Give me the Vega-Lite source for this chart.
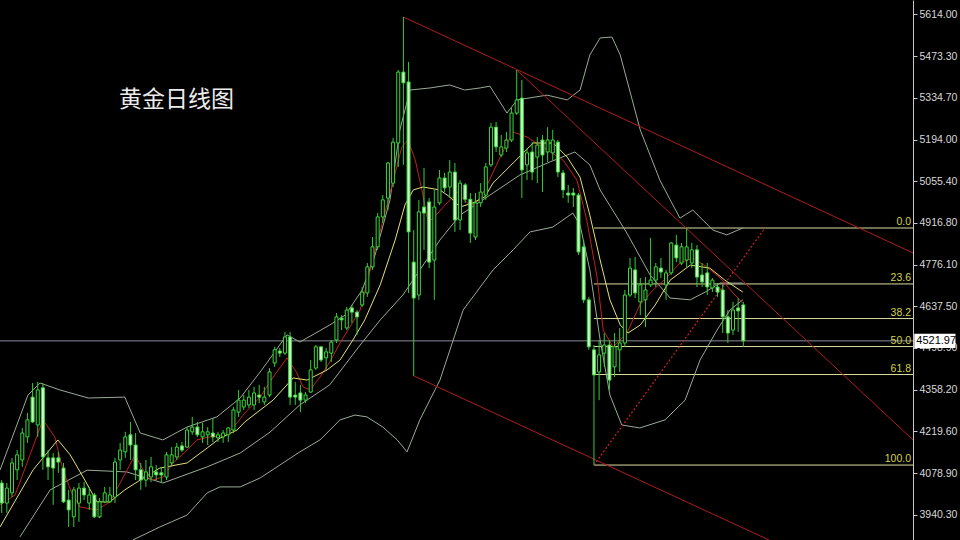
{
"$schema": "https://vega.github.io/schema/vega-lite/v6.json",
"width": 913, "height": 540,
"autosize": {"type": "none"},
"padding": {"left": 0, "top": 0, "right": 47, "bottom": 0},
"background": "#000000",
"config": {"view": {"stroke": null}, "scale": {"continuousPadding": 0},
 "axisY": {"orient":"right","format":".2f","labelColor":"#d8d8d8","labelFont":"Liberation Sans","labelFontSize":10.5,"tickColor":"#c8c8c8","tickSize":4,"domainColor":"#c8c8c8","grid":false,"labelPadding":2,"labelOverlap":false,"labelFlush":false}},
"datasets": {
"candles": [
{"i":0,"o":4047,"h":4057,"l":3947,"c":3980},{"i":1,"o":3980,"h":4047,"l":3947,"c":4030},{"i":2,"o":4014,"h":4131,"l":4000,"c":4114},{"i":3,"o":4091,"h":4157,"l":4057,"c":4141},{"i":4,"o":4124,"h":4231,"l":4101,"c":4214},
{"i":5,"o":4201,"h":4281,"l":4181,"c":4258},{"i":6,"o":4334,"h":4381,"l":4248,"c":4251},{"i":7,"o":4241,"h":4385,"l":4201,"c":4358},{"i":8,"o":4365,"h":4381,"l":4091,"c":4134},{"i":9,"o":4131,"h":4157,"l":4057,"c":4101},
{"i":10,"o":4131,"h":4147,"l":3974,"c":4097},{"i":11,"o":4131,"h":4151,"l":4081,"c":4117},{"i":12,"o":4097,"h":4114,"l":3980,"c":3984},{"i":13,"o":3990,"h":4024,"l":3900,"c":3957},{"i":14,"o":3934,"h":4034,"l":3900,"c":4024},
{"i":15,"o":3980,"h":4047,"l":3917,"c":4030},{"i":16,"o":4030,"h":4050,"l":3990,"c":4007},{"i":17,"o":3980,"h":4034,"l":3957,"c":4007},{"i":18,"o":4007,"h":4014,"l":3930,"c":3934},{"i":19,"o":3934,"h":3997,"l":3930,"c":3984},
{"i":20,"o":3984,"h":4034,"l":3980,"c":4014},{"i":21,"o":3984,"h":4034,"l":3980,"c":4007},{"i":22,"o":4000,"h":4131,"l":3980,"c":4117},{"i":23,"o":4124,"h":4181,"l":4091,"c":4157},{"i":24,"o":4151,"h":4218,"l":4131,"c":4201},
{"i":25,"o":4208,"h":4251,"l":4124,"c":4174},{"i":26,"o":4174,"h":4214,"l":4057,"c":4091},{"i":27,"o":4091,"h":4114,"l":4024,"c":4057},{"i":28,"o":4057,"h":4124,"l":4034,"c":4084},{"i":29,"o":4067,"h":4134,"l":4050,"c":4101},
{"i":30,"o":4084,"h":4107,"l":4057,"c":4074},{"i":31,"o":4081,"h":4101,"l":4047,"c":4074},{"i":32,"o":4067,"h":4151,"l":4057,"c":4141},{"i":33,"o":4114,"h":4167,"l":4101,"c":4141},{"i":34,"o":4134,"h":4181,"l":4124,"c":4167},
{"i":35,"o":4171,"h":4184,"l":4151,"c":4157},{"i":36,"o":4167,"h":4234,"l":4164,"c":4224},{"i":37,"o":4218,"h":4268,"l":4208,"c":4234},{"i":38,"o":4234,"h":4251,"l":4201,"c":4208},{"i":39,"o":4201,"h":4248,"l":4181,"c":4218},
{"i":40,"o":4208,"h":4234,"l":4174,"c":4218},{"i":41,"o":4214,"h":4264,"l":4184,"c":4201},{"i":42,"o":4198,"h":4218,"l":4184,"c":4208},{"i":43,"o":4201,"h":4224,"l":4181,"c":4214},{"i":44,"o":4208,"h":4234,"l":4184,"c":4231},
{"i":45,"o":4224,"h":4301,"l":4214,"c":4291},{"i":46,"o":4284,"h":4358,"l":4268,"c":4324},{"i":47,"o":4301,"h":4341,"l":4291,"c":4324},{"i":48,"o":4308,"h":4358,"l":4298,"c":4334},{"i":49,"o":4308,"h":4368,"l":4291,"c":4348},
{"i":50,"o":4341,"h":4375,"l":4314,"c":4334},{"i":51,"o":4318,"h":4368,"l":4308,"c":4334},{"i":52,"o":4341,"h":4431,"l":4334,"c":4418},{"i":53,"o":4448,"h":4502,"l":4435,"c":4492},{"i":54,"o":4488,"h":4498,"l":4468,"c":4481},
{"i":55,"o":4481,"h":4552,"l":4475,"c":4535},{"i":56,"o":4535,"h":4552,"l":4308,"c":4334},{"i":57,"o":4341,"h":4385,"l":4308,"c":4334},{"i":58,"o":4348,"h":4375,"l":4284,"c":4324},{"i":59,"o":4324,"h":4351,"l":4314,"c":4341},
{"i":60,"o":4351,"h":4458,"l":4348,"c":4425},{"i":61,"o":4431,"h":4508,"l":4425,"c":4502},{"i":62,"o":4502,"h":4505,"l":4451,"c":4458},{"i":63,"o":4465,"h":4498,"l":4425,"c":4485},{"i":64,"o":4481,"h":4525,"l":4451,"c":4518},
{"i":65,"o":4525,"h":4615,"l":4515,"c":4602},{"i":66,"o":4598,"h":4608,"l":4558,"c":4592},{"i":67,"o":4565,"h":4635,"l":4558,"c":4625},{"i":68,"o":4632,"h":4642,"l":4582,"c":4618},{"i":69,"o":4618,"h":4625,"l":4542,"c":4602},
{"i":70,"o":4642,"h":4702,"l":4635,"c":4685},{"i":71,"o":4682,"h":4782,"l":4669,"c":4769},{"i":72,"o":4769,"h":4869,"l":4759,"c":4836},{"i":73,"o":4836,"h":4949,"l":4826,"c":4936},{"i":74,"o":4936,"h":5009,"l":4916,"c":4993},
{"i":75,"o":4999,"h":5120,"l":4959,"c":5116},{"i":76,"o":5049,"h":5200,"l":5036,"c":5186},{"i":77,"o":5183,"h":5427,"l":5103,"c":5420},{"i":78,"o":5420,"h":5604,"l":5110,"c":5384},{"i":79,"o":5387,"h":5454,"l":4682,"c":4886},
{"i":80,"o":4785,"h":4892,"l":4405,"c":4665},{"i":81,"o":4675,"h":4993,"l":4659,"c":4953},{"i":82,"o":4969,"h":5100,"l":4826,"c":4949},{"i":83,"o":4986,"h":4999,"l":4765,"c":4785},{"i":84,"o":4792,"h":5026,"l":4659,"c":4969},
{"i":85,"o":4983,"h":5093,"l":4976,"c":5066},{"i":86,"o":5066,"h":5083,"l":5019,"c":5033},{"i":87,"o":5036,"h":5126,"l":4999,"c":5086},{"i":88,"o":5086,"h":5116,"l":4886,"c":4926},{"i":89,"o":4926,"h":5059,"l":4892,"c":5049},
{"i":90,"o":5043,"h":5049,"l":4983,"c":4995},{"i":91,"o":4995,"h":5016,"l":4849,"c":4882},{"i":92,"o":4869,"h":5016,"l":4859,"c":4983},{"i":93,"o":4983,"h":5049,"l":4969,"c":5019},{"i":94,"o":5009,"h":5116,"l":4993,"c":5103},
{"i":95,"o":5110,"h":5250,"l":5103,"c":5236},{"i":96,"o":5236,"h":5253,"l":5153,"c":5170},{"i":97,"o":5143,"h":5210,"l":5136,"c":5170},{"i":98,"o":5166,"h":5220,"l":5153,"c":5193},{"i":99,"o":5193,"h":5300,"l":5186,"c":5283},
{"i":100,"o":5283,"h":5427,"l":5277,"c":5327},{"i":101,"o":5333,"h":5394,"l":4999,"c":5093},{"i":102,"o":5110,"h":5166,"l":5059,"c":5150},{"i":103,"o":5153,"h":5186,"l":5059,"c":5086},{"i":104,"o":5136,"h":5203,"l":5049,"c":5176},
{"i":105,"o":5193,"h":5210,"l":5019,"c":5143},{"i":106,"o":5153,"h":5236,"l":5120,"c":5193},{"i":107,"o":5150,"h":5227,"l":5126,"c":5193},{"i":108,"o":5186,"h":5193,"l":5069,"c":5086},{"i":109,"o":5083,"h":5093,"l":4999,"c":5026},
{"i":110,"o":5016,"h":5043,"l":4983,"c":5009},{"i":111,"o":5016,"h":5033,"l":4969,"c":5009},{"i":112,"o":5009,"h":5016,"l":4809,"c":4819},{"i":113,"o":4836,"h":4859,"l":4648,"c":4659},{"i":114,"o":4659,"h":4669,"l":4492,"c":4502},
{"i":115,"o":4492,"h":4508,"l":4107,"c":4408},{"i":116,"o":4418,"h":4525,"l":4324,"c":4475},{"i":117,"o":4481,"h":4548,"l":4435,"c":4508},{"i":118,"o":4508,"h":4525,"l":4358,"c":4391},{"i":119,"o":4435,"h":4548,"l":4401,"c":4502},
{"i":120,"o":4492,"h":4565,"l":4418,"c":4515},{"i":121,"o":4515,"h":4692,"l":4502,"c":4675},{"i":122,"o":4675,"h":4799,"l":4669,"c":4765},{"i":123,"o":4759,"h":4802,"l":4665,"c":4682},{"i":124,"o":4652,"h":4732,"l":4608,"c":4709},
{"i":125,"o":4659,"h":4735,"l":4568,"c":4692},{"i":126,"o":4709,"h":4866,"l":4702,"c":4725},{"i":127,"o":4725,"h":4782,"l":4702,"c":4769},{"i":128,"o":4765,"h":4799,"l":4732,"c":4752},{"i":129,"o":4709,"h":4759,"l":4659,"c":4749},
{"i":130,"o":4749,"h":4852,"l":4742,"c":4849},{"i":131,"o":4842,"h":4876,"l":4785,"c":4799},{"i":132,"o":4782,"h":4849,"l":4775,"c":4836},{"i":133,"o":4792,"h":4899,"l":4769,"c":4836},{"i":134,"o":4782,"h":4849,"l":4765,"c":4826},
{"i":135,"o":4826,"h":4842,"l":4702,"c":4735},{"i":136,"o":4742,"h":4782,"l":4702,"c":4719},{"i":137,"o":4749,"h":4782,"l":4675,"c":4702},{"i":138,"o":4699,"h":4732,"l":4685,"c":4725},{"i":139,"o":4702,"h":4715,"l":4669,"c":4685},
{"i":140,"o":4692,"h":4709,"l":4548,"c":4602},{"i":141,"o":4602,"h":4625,"l":4515,"c":4548},{"i":142,"o":4558,"h":4652,"l":4542,"c":4625},{"i":143,"o":4632,"h":4665,"l":4552,"c":4622},{"i":144,"o":4642,"h":4652,"l":4502,"c":4521.97}
],
"lines": [
{"s":"U","i":-0.33,"p":4090},{"s":"U","i":2.58,"p":4224},{"s":"U","i":5.1,"p":4341},{"s":"U","i":7.44,"p":4381},{"s":"U","i":11.3,"p":4358},{"s":"U","i":16.8,"p":4331},{"s":"U","i":23.9,"p":4334},{"s":"U","i":26.9,"p":4214},{"s":"U","i":31.3,"p":4191},{"s":"U","i":36.0,"p":4234},{"s":"U","i":41.8,"p":4268},{"s":"U","i":46.3,"p":4331},{"s":"U","i":50.5,"p":4425},{"s":"U","i":55.4,"p":4542},{"s":"U","i":57.9,"p":4518},{"s":"U","i":63.7,"p":4575},{"s":"U","i":66.7,"p":4608},{"s":"U","i":70.0,"p":4692},{"s":"U","i":72.5,"p":4809},{"s":"U","i":75.4,"p":4993},{"s":"U","i":77.3,"p":5226},{"s":"U","i":79.3,"p":5360},{"s":"U","i":83.2,"p":5367},{"s":"U","i":87.0,"p":5377},{"s":"U","i":89.9,"p":5360},{"s":"U","i":92.9,"p":5367},{"s":"U","i":94.8,"p":5373},{"s":"U","i":98.1,"p":5283},{"s":"U","i":100.1,"p":5327},{"s":"U","i":105.9,"p":5343},{"s":"U","i":109.8,"p":5327},{"s":"U","i":112.3,"p":5360},{"s":"U","i":114.2,"p":5477},{"s":"U","i":116.2,"p":5534},{"s":"U","i":118.5,"p":5537},{"s":"U","i":120.1,"p":5477},{"s":"U","i":124.0,"p":5226},{"s":"U","i":127.8,"p":5059},{"s":"U","i":129.8,"p":4993},{"s":"U","i":131.7,"p":4932},{"s":"U","i":134.2,"p":4959},{"s":"U","i":138.1,"p":4892},{"s":"U","i":140.8,"p":4876},{"s":"U","i":143.9,"p":4899},
{"s":"M","i":3.55,"p":3867},{"s":"M","i":9.4,"p":4024},{"s":"M","i":16.6,"p":4090},{"s":"M","i":24.3,"p":4084},{"s":"M","i":31.3,"p":4047},{"s":"M","i":39.9,"p":4101},{"s":"M","i":46.3,"p":4147},{"s":"M","i":52.1,"p":4217},{"s":"M","i":57.9,"p":4308},{"s":"M","i":63.7,"p":4375},{"s":"M","i":69.6,"p":4508},{"s":"M","i":73.5,"p":4592},{"s":"M","i":77.9,"p":4675},{"s":"M","i":81.2,"p":4759},{"s":"M","i":85.1,"p":4859},{"s":"M","i":89.0,"p":4942},{"s":"M","i":94.8,"p":5009},{"s":"M","i":100.6,"p":5076},{"s":"M","i":106.5,"p":5120},{"s":"M","i":111.3,"p":5153},{"s":"M","i":114.2,"p":5110},{"s":"M","i":116.2,"p":5026},{"s":"M","i":121.4,"p":4882},{"s":"M","i":125.9,"p":4742},{"s":"M","i":129.8,"p":4665},{"s":"M","i":133.7,"p":4659},{"s":"M","i":136.6,"p":4685},{"s":"M","i":139.5,"p":4715},{"s":"M","i":143.9,"p":4715},
{"s":"L","i":25.5,"p":3857},{"s":"L","i":30.7,"p":3900},{"s":"L","i":36.0,"p":3940},{"s":"L","i":39.9,"p":4014},{"s":"L","i":42.4,"p":4034},{"s":"L","i":46.3,"p":4034},{"s":"L","i":50.2,"p":4064},{"s":"L","i":54.0,"p":4107},{"s":"L","i":57.9,"p":4151},{"s":"L","i":61.8,"p":4191},{"s":"L","i":65.7,"p":4258},{"s":"L","i":68.6,"p":4274},{"s":"L","i":70.9,"p":4268},{"s":"L","i":74.0,"p":4234},{"s":"L","i":76.8,"p":4191},{"s":"L","i":78.7,"p":4151},{"s":"L","i":81.2,"p":4258},{"s":"L","i":85.1,"p":4391},{"s":"L","i":89.6,"p":4625},{"s":"L","i":95.4,"p":4759},{"s":"L","i":99.3,"p":4826},{"s":"L","i":102.6,"p":4886},{"s":"L","i":107.0,"p":4902},{"s":"L","i":110.9,"p":4949},{"s":"L","i":112.3,"p":4909},{"s":"L","i":114.2,"p":4759},{"s":"L","i":116.2,"p":4525},{"s":"L","i":118.1,"p":4341},{"s":"L","i":120.4,"p":4241},{"s":"L","i":123.9,"p":4231},{"s":"L","i":128.8,"p":4258},{"s":"L","i":132.7,"p":4324},{"s":"L","i":135.6,"p":4458},{"s":"L","i":138.9,"p":4558},{"s":"L","i":141.4,"p":4625},{"s":"L","i":143.9,"p":4659},
{"s":"R","i":-0.33,"p":3974},{"s":"R","i":2.6,"p":4007},{"s":"R","i":5.5,"p":4141},{"s":"R","i":8.0,"p":4258},{"s":"R","i":10.3,"p":4201},{"s":"R","i":11.9,"p":4091},{"s":"R","i":13.6,"p":4014},{"s":"R","i":15.2,"p":3967},{"s":"R","i":18.5,"p":3957},{"s":"R","i":21.0,"p":3984},{"s":"R","i":23.0,"p":4047},{"s":"R","i":25.9,"p":4141},{"s":"R","i":28.2,"p":4067},{"s":"R","i":29.4,"p":4057},{"s":"R","i":31.3,"p":4067},{"s":"R","i":33.3,"p":4114},{"s":"R","i":36.0,"p":4157},{"s":"R","i":37.9,"p":4191},{"s":"R","i":40.4,"p":4201},{"s":"R","i":43.7,"p":4207},{"s":"R","i":45.7,"p":4248},{"s":"R","i":47.2,"p":4281},{"s":"R","i":50.2,"p":4334},{"s":"R","i":52.7,"p":4401},{"s":"R","i":55.4,"p":4465},{"s":"R","i":57.3,"p":4415},{"s":"R","i":58.5,"p":4368},{"s":"R","i":59.9,"p":4358},{"s":"R","i":61.8,"p":4401},{"s":"R","i":63.7,"p":4451},{"s":"R","i":65.7,"p":4515},{"s":"R","i":67.6,"p":4568},{"s":"R","i":69.6,"p":4625},{"s":"R","i":72.9,"p":4849},{"s":"R","i":75.4,"p":5016},{"s":"R","i":77.7,"p":5170},{"s":"R","i":78.9,"p":5193},{"s":"R","i":80.3,"p":5126},{"s":"R","i":81.6,"p":5026},{"s":"R","i":82.8,"p":4916},{"s":"R","i":84.7,"p":4949},{"s":"R","i":86.5,"p":4983},{"s":"R","i":88.4,"p":5019},{"s":"R","i":90.4,"p":4983},{"s":"R","i":91.9,"p":4976},{"s":"R","i":93.8,"p":5026},{"s":"R","i":96.8,"p":5136},{"s":"R","i":99.3,"p":5220},{"s":"R","i":102.0,"p":5203},{"s":"R","i":105.9,"p":5160},{"s":"R","i":109.0,"p":5126},{"s":"R","i":111.7,"p":5059},{"s":"R","i":113.6,"p":4926},{"s":"R","i":115.6,"p":4735},{"s":"R","i":116.8,"p":4558},{"s":"R","i":118.7,"p":4502},{"s":"R","i":121.4,"p":4548},{"s":"R","i":123.9,"p":4642},{"s":"R","i":126.5,"p":4692},{"s":"R","i":129.2,"p":4735},{"s":"R","i":131.7,"p":4782},{"s":"R","i":134.2,"p":4799},{"s":"R","i":136.9,"p":4769},{"s":"R","i":139.5,"p":4732},{"s":"R","i":142.0,"p":4682},{"s":"R","i":143.9,"p":4648},
{"s":"Y","i":-0.33,"p":3900},{"s":"Y","i":6.1,"p":4091},{"s":"Y","i":10.9,"p":4191},{"s":"Y","i":13.3,"p":4141},{"s":"Y","i":15.8,"p":4067},{"s":"Y","i":18.5,"p":3984},{"s":"Y","i":21.0,"p":3984},{"s":"Y","i":23.9,"p":4024},{"s":"Y","i":26.9,"p":4057},{"s":"Y","i":30.7,"p":4097},{"s":"Y","i":36.0,"p":4114},{"s":"Y","i":39.9,"p":4164},{"s":"Y","i":42.4,"p":4197},{"s":"Y","i":45.7,"p":4224},{"s":"Y","i":47.2,"p":4251},{"s":"Y","i":52.7,"p":4324},{"s":"Y","i":56.6,"p":4398},{"s":"Y","i":59.3,"p":4391},{"s":"Y","i":63.2,"p":4425},{"s":"Y","i":65.7,"p":4458},{"s":"Y","i":68.2,"p":4525},{"s":"Y","i":70.5,"p":4592},{"s":"Y","i":73.5,"p":4709},{"s":"Y","i":76.4,"p":4859},{"s":"Y","i":78.3,"p":4976},{"s":"Y","i":79.9,"p":5026},{"s":"Y","i":81.8,"p":5036},{"s":"Y","i":85.1,"p":5026},{"s":"Y","i":87.0,"p":5003},{"s":"Y","i":89.0,"p":4969},{"s":"Y","i":91.5,"p":4983},{"s":"Y","i":93.8,"p":5003},{"s":"Y","i":95.4,"p":5049},{"s":"Y","i":99.3,"p":5116},{"s":"Y","i":103.2,"p":5183},{"s":"Y","i":107.1,"p":5183},{"s":"Y","i":109.8,"p":5136},{"s":"Y","i":112.3,"p":5069},{"s":"Y","i":114.2,"p":4942},{"s":"Y","i":116.2,"p":4792},{"s":"Y","i":118.1,"p":4659},{"s":"Y","i":120.1,"p":4575},{"s":"Y","i":121.6,"p":4548},{"s":"Y","i":124.0,"p":4575},{"s":"Y","i":126.9,"p":4642},{"s":"Y","i":129.8,"p":4725},{"s":"Y","i":133.7,"p":4775},{"s":"Y","i":137.5,"p":4765},{"s":"Y","i":140.4,"p":4725},{"s":"Y","i":143.9,"p":4685}
],
"fib": [{"lv":"0.0","p":4899},{"lv":"23.6","p":4712.1},{"lv":"38.2","p":4596.5},{"lv":"50.0","p":4503},{"lv":"61.8","p":4409.5},{"lv":"100.0","p":4107}],
"trend": [{"a":78,"pa":5604,"b":176.95,"pb":4815.5},{"a":100,"pa":5427,"b":176.95,"pb":4191},{"a":80,"pa":4405,"b":149,"pb":3856.6}],
"dotted": [{"a":115,"pa":4107,"b":148.2,"pb":4899}],
"price": [{"price":4521.97}],
"title": [{"t":"黄金日线图"}]
},
"layer": [
{"data":{"name":"price"},"mark":{"type":"rule","color":"#8a8a9a","strokeWidth":1},
 "encoding":{"y":{"field":"price","type":"quantitative","scale":{"domain":[3856.6,5660.8],"nice":false,"zero":false},
  "axis":{"values":[3940.3,4078.9,4219.6,4358.2,4498.9,4637.5,4776.1,4916.8,5055.4,5194.0,5334.7,5473.3,5614.0],"title":null}}}},
{"data":{"name":"fib"},"mark":{"type":"rule","color":"#dcdca0","strokeWidth":1},
 "encoding":{"x":{"datum":115,"type":"quantitative","scale":{"domain":[-0.33,176.95],"nice":false,"zero":false,"padding":0},"axis":null},"x2":{"datum":176.95},
  "y":{"field":"p","type":"quantitative","scale":{"domain":[3856.6,5660.8],"nice":false,"zero":false},"axis":{"values":[3940.3,4078.9,4219.6,4358.2,4498.9,4637.5,4776.1,4916.8,5055.4,5194.0,5334.7,5473.3,5614.0],"title":null}}}},
{"data":{"name":"fib"},"mark":{"type":"text","color":"#d2d24e","font":"Liberation Sans","fontSize":10.5,"align":"right","baseline":"bottom","dx":-2,"dy":-1},
 "encoding":{"x":{"datum":176.95,"type":"quantitative","scale":{"domain":[-0.33,176.95],"nice":false,"zero":false,"padding":0},"axis":null},
  "y":{"field":"p","type":"quantitative","scale":{"domain":[3856.6,5660.8],"nice":false,"zero":false},"axis":{"values":[3940.3,4078.9,4219.6,4358.2,4498.9,4637.5,4776.1,4916.8,5055.4,5194.0,5334.7,5473.3,5614.0],"title":null}},"text":{"field":"lv"}}},
{"data":{"name":"lines"},"mark":{"type":"line","strokeWidth":1,"clip":true},
 "encoding":{"x":{"field":"i","type":"quantitative","scale":{"domain":[-0.33,176.95],"nice":false,"zero":false,"padding":0},"axis":null},
  "y":{"field":"p","type":"quantitative","scale":{"domain":[3856.6,5660.8],"nice":false,"zero":false},"axis":{"values":[3940.3,4078.9,4219.6,4358.2,4498.9,4637.5,4776.1,4916.8,5055.4,5194.0,5334.7,5473.3,5614.0],"title":null}},
  "color":{"field":"s","type":"nominal","scale":{"domain":["U","M","L","R","Y"],"range":["#9aaa98","#9aaa98","#9aaa98","#c41e1e","#e6df78"]},"legend":null}}},
{"data":{"name":"trend"},"mark":{"type":"rule","color":"#b01c1c","strokeWidth":1,"clip":true},
 "encoding":{"x":{"field":"a","type":"quantitative","scale":{"domain":[-0.33,176.95],"nice":false,"zero":false,"padding":0},"axis":null},"x2":{"field":"b"},
  "y":{"field":"pa","type":"quantitative","scale":{"domain":[3856.6,5660.8],"nice":false,"zero":false},"axis":{"values":[3940.3,4078.9,4219.6,4358.2,4498.9,4637.5,4776.1,4916.8,5055.4,5194.0,5334.7,5473.3,5614.0],"title":null}},"y2":{"field":"pb"}}},
{"data":{"name":"dotted"},"mark":{"type":"rule","color":"#cc2222","strokeWidth":1.2,"strokeDash":[2,2],"clip":true},
 "encoding":{"x":{"field":"a","type":"quantitative","scale":{"domain":[-0.33,176.95],"nice":false,"zero":false,"padding":0},"axis":null},"x2":{"field":"b"},
  "y":{"field":"pa","type":"quantitative","scale":{"domain":[3856.6,5660.8],"nice":false,"zero":false},"axis":{"values":[3940.3,4078.9,4219.6,4358.2,4498.9,4637.5,4776.1,4916.8,5055.4,5194.0,5334.7,5473.3,5614.0],"title":null}},"y2":{"field":"pb"}}},
{"data":{"name":"candles"},"mark":{"type":"rule","color":"#36cc36","strokeWidth":1},
 "encoding":{"x":{"field":"i","type":"quantitative","scale":{"domain":[-0.33,176.95],"nice":false,"zero":false,"padding":0},"axis":null},
  "y":{"field":"l","type":"quantitative","scale":{"domain":[3856.6,5660.8],"nice":false,"zero":false},"axis":{"values":[3940.3,4078.9,4219.6,4358.2,4498.9,4637.5,4776.1,4916.8,5055.4,5194.0,5334.7,5473.3,5614.0],"title":null}},"y2":{"field":"h"}}},
{"data":{"name":"candles"},"mark":{"type":"bar","width":3,"stroke":"#3ad83a","strokeWidth":1},
 "encoding":{"x":{"field":"i","type":"quantitative","scale":{"domain":[-0.33,176.95],"nice":false,"zero":false,"padding":0},"axis":null},
  "y":{"field":"o","type":"quantitative","scale":{"domain":[3856.6,5660.8],"nice":false,"zero":false},"axis":{"values":[3940.3,4078.9,4219.6,4358.2,4498.9,4637.5,4776.1,4916.8,5055.4,5194.0,5334.7,5473.3,5614.0],"title":null}},"y2":{"field":"c"},
  "fill":{"condition":{"test":"datum.c < datum.o","value":"#cdf5c8"},"value":"#000000"}}},
{"data":{"name":"title"},"mark":{"type":"text","color":"#ececec","font":"Noto Sans CJK SC","fontSize":23,"align":"left","baseline":"middle"},
 "encoding":{"x":{"datum":22.8,"type":"quantitative","scale":{"domain":[-0.33,176.95],"nice":false,"zero":false,"padding":0},"axis":null},
  "y":{"datum":5327,"type":"quantitative","scale":{"domain":[3856.6,5660.8],"nice":false,"zero":false},"axis":{"values":[3940.3,4078.9,4219.6,4358.2,4498.9,4637.5,4776.1,4916.8,5055.4,5194.0,5334.7,5473.3,5614.0],"title":null}},"text":{"field":"t"}}},
{"data":{"name":"price"},"mark":{"type":"rect","color":"#ffffff"},
 "encoding":{"x":{"datum":177.2,"type":"quantitative","scale":{"domain":[-0.33,176.95],"nice":false,"zero":false,"padding":0},"axis":null},"x2":{"datum":185.2},
  "y":{"datum":4546,"type":"quantitative","scale":{"domain":[3856.6,5660.8],"nice":false,"zero":false},"axis":{"values":[3940.3,4078.9,4219.6,4358.2,4498.9,4637.5,4776.1,4916.8,5055.4,5194.0,5334.7,5473.3,5614.0],"title":null}},"y2":{"datum":4498}}},
{"data":{"name":"price"},"mark":{"type":"text","color":"#000000","font":"Liberation Sans","fontSize":11,"align":"left","baseline":"middle","dx":2},
 "encoding":{"x":{"datum":177.2,"type":"quantitative","scale":{"domain":[-0.33,176.95],"nice":false,"zero":false,"padding":0},"axis":null},
  "y":{"field":"price","type":"quantitative","scale":{"domain":[3856.6,5660.8],"nice":false,"zero":false},"axis":{"values":[3940.3,4078.9,4219.6,4358.2,4498.9,4637.5,4776.1,4916.8,5055.4,5194.0,5334.7,5473.3,5614.0],"title":null}},"text":{"field":"price","format":".2f"}}}
]
}
